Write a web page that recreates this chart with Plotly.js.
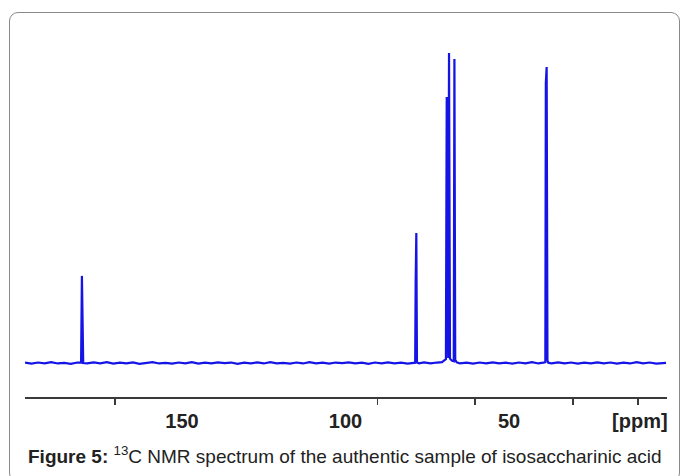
<!DOCTYPE html>
<html>
<head>
<meta charset="utf-8">
<script src="https://cdn.plot.ly/plotly-3.0.1.min.js"></script>
<style>
  html, body { margin: 0; padding: 0; background: #ffffff; }
  #wrap { position: relative; width: 683px; height: 476px; overflow: hidden; }
  #frame { position: absolute; left: 9px; top: 12px; width: 671px; height: 470px;
           border: 1.5px solid #8a8a8a; border-radius: 9px; box-sizing: border-box; }
  #chart { position: absolute; left: 0; top: 0; width: 683px; height: 476px; }
</style>
</head>
<body>
<div id="wrap">
  <div id="frame"></div>
  <div id="chart"></div>
</div>
<script>
// 13C NMR spectrum (chemical shift in ppm, relative intensity)
const shiftPpm = [
  198, 196, 194, 192, 190, 188, 186, 184, 182, 181.0, 180.85, 180.6, 180.35, 180.2,
  179, 177, 175, 173, 171, 169, 167, 165, 163, 161, 159, 157, 155, 153, 151, 149,
  147, 145, 143, 141, 139, 137, 135, 133, 131, 129, 127, 125, 123, 121, 119, 117,
  115, 113, 111, 109, 107, 105, 103, 101, 99, 97, 95, 93, 91, 89, 87, 85, 83, 81,
  79.5, 78.7, 78.55, 78.35, 78.15, 77.5, 76, 74, 72, 70.5, 69.7, 69.3, 69.05, 68.75,
  68.6, 68.35, 68.05, 67.5, 67.0, 66.9, 66.7, 66.45, 66.0, 65, 63, 61, 59, 57, 55,
  53, 51, 49, 47, 45, 43, 41, 39.5, 38.9, 38.75, 38.5, 38.25, 38.0, 37, 35, 33, 31,
  29, 27, 25, 23, 21, 19, 17, 15, 13, 11, 9, 7, 5, 3, 2
];
const intensity = [
  0.1, -0.2, 0.15, -0.1, 0.25, -0.15, 0.05, -0.25, 0.15, 0.0, 0.2, 28.1, 0.2, 0.0,
  -0.15, 0.2, -0.1, 0.25, -0.2, 0.1, -0.15, 0.2, -0.25, 0.1, 0.3, -0.15, 0.05, -0.2, 0.15, -0.1,
  0.25, -0.2, 0.1, -0.15, 0.2, -0.05, 0.15, -0.25, 0.1, -0.1, 0.2, -0.15, 0.25, -0.1, 0.05, -0.2,
  0.15, -0.15, 0.3, -0.1, 0.1, -0.2, 0.15, -0.05, 0.2, -0.15, 0.1, -0.25, 0.15, -0.1, 0.2, -0.15, 0.1, -0.2,
  0.15, 0.1, 26.1, 41.9, 0.15, -0.1, 0.2, -0.15, 0.15, 0.3, 0.9, 1.2, 85.8, 1.6,
  1.6, 100.0, 1.4, 0.8, 0.6, 0.6, 98.1, 1.0, 0.2, -0.15, 0.1, -0.2, 0.15, -0.1, 0.2,
  -0.15, 0.1, -0.2, 0.15, -0.1, 0.25, -0.15, 0.1, 0.3, 90.3, 95.5, 0.8, 0.1, -0.15, 0.2, -0.1, 0.15,
  -0.2, 0.1, -0.15, 0.2, -0.1, 0.15, -0.2, 0.1, -0.15, 0.25, -0.1, 0.15, -0.2, 0.1, 0.05
];
// axis tick marks (as drawn, ppm) and tick labels
const tickMarkPpm = [170.5, 90.2, 60.4, 30.5, 10.5];
const labelPpm = [150, 100, 50, 10];
const labelText = ['150', '100', '50', '[ppm]'];
const captionBold = 'Figure 5:';
const captionText = '<sup>13</sup>C NMR spectrum of the authentic sample of isosaccharinic acid';

const xRange = [198, 1.7];

const traces = [{
  type: 'scatter', mode: 'lines',
  x: shiftPpm, y: intensity,
  line: { color: '#1414e6', width: 2.2 },
  hoverinfo: 'skip', showlegend: false
}, {
  type: 'scatter', mode: 'markers',
  x: [labelPpm[0]], y: [0], xaxis: 'x2',
  marker: { opacity: 0 }, hoverinfo: 'skip', showlegend: false
}];

const layout = {
  width: 683, height: 476,
  margin: { l: 25, r: 16, t: 40, b: 79 },
  paper_bgcolor: 'rgba(0,0,0,0)', plot_bgcolor: 'rgba(0,0,0,0)',
  showlegend: false,
  xaxis: {
    range: xRange, showgrid: false, zeroline: false,
    showline: true, linecolor: '#3a3a3a', linewidth: 1.5,
    ticks: 'outside', ticklen: 6, tickwidth: 1.5, tickcolor: '#3a3a3a',
    tickmode: 'array', tickvals: tickMarkPpm, showticklabels: false
  },
  xaxis2: {
    range: xRange, overlaying: 'x', anchor: 'y', side: 'bottom',
    showgrid: false, zeroline: false, showline: false, ticks: '',
    tickmode: 'array', tickvals: labelPpm, ticktext: labelText,
    ticklabelstandoff: 10,
    tickfont: { family: 'Liberation Sans, Arial, sans-serif', size: 20, color: '#222222', weight: 'bold' }
  },
  yaxis: {
    range: [-10.97, 104.2], visible: false, showgrid: false, zeroline: false
  },
  annotations: [{
    xref: 'paper', yref: 'paper', x: 0.498, y: -0.162,
    xanchor: 'center', yanchor: 'middle', showarrow: false,
    text: '<b>' + captionBold + '</b> ' + captionText,
    font: { family: 'Liberation Sans, Arial, sans-serif', size: 19, color: '#222222' }
  }]
};

Plotly.newPlot('chart', traces, layout, { displayModeBar: false, staticPlot: true });
</script>
</body>
</html>
